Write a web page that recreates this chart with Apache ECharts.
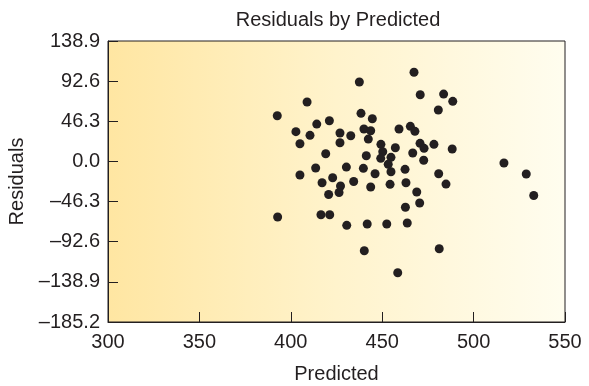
<!DOCTYPE html>
<html>
<head>
<meta charset="utf-8">
<script src="https://cdn.jsdelivr.net/npm/echarts@6/dist/echarts.min.js"></script>
<style>
html,body{margin:0;padding:0;background:#fff;}
#c{width:589px;height:386px;}
</style>
</head>
<body>
<div id="c"></div>
<script>
var predicted = [437.5,408.9,392.6,438.4,444.6,414.2,421.1,402.8,410.5,405.0,426.9,432.8,426.9,440.0,443.7,442.4,459.2,465.4,449.3,450.3,457.2,419.1,441.3,449.2,454.8,453.3,454.8,462.5,405.0,413.6,430.4,439.7,446.1,422.9,417.1,434.4,427.2,443.7,454.3,463.0,420.7,426.4,467.4,470.8,483.6,488.6,480.7,467.9,470.7,472.9,478.3,488.3,466.7,472.7,480.9,484.9,468.9,470.5,516.6,528.8,532.9,462.7,392.8,416.5,421.3,430.6,441.8,452.5,463.7,440.2,458.5,481.2];
var residuals = [91.6,68.5,52.7,55.5,49.2,43.1,46.9,34.3,30.1,20.4,32.8,29.6,21.6,37.4,35.4,25.8,37.4,40.5,19.7,11.2,15.8,8.9,6.6,3.6,4.7,-3.3,-11.9,-9.1,-15.7,-7.6,-6.5,-8.0,-14.2,-18.8,-24.6,-23.2,-28.4,-29.5,-26.4,-24.6,-38.2,-35.9,102.8,76.9,77.7,69.3,59.3,34.7,20.9,15.1,19.7,14.3,9.7,1.3,-14.2,-26.1,-35.3,-48.0,-1.8,-14.5,-39.3,-52.9,-64.1,-61.5,-61.5,-73.7,-72.2,-72.2,-71.0,-103.0,-128.4,-100.7];
var xTicks = [300,350,400,450,500,550];
var yTicks = [-185.2,-138.9,-92.6,-46.3,0.0,46.3,92.6,138.9];

var pts = predicted.map(function(x,i){return [x,residuals[i]];});
var chart = echarts.init(document.getElementById('c'));
var font = '"Liberation Sans",Arial,sans-serif';
function fmtY(v){
  if (Math.abs(v) < 1e-6) return '0.0';
  var s = Math.abs(v).toFixed(1);
  return (v < 0 ? '\u2013' : '') + s;
}
chart.setOption({
  animation:false,
  title:{text:'Residuals by Predicted',left:333,textAlign:'center',top:5,
    textStyle:{fontFamily:font,fontSize:20,fontWeight:'normal',color:'#231f20'}},
  grid:{left:108,right:24,top:41,bottom:64,containLabel:false,outerBoundsMode:'none',
    show:true,borderColor:'#231f20',borderWidth:1,
    backgroundColor:new echarts.graphic.LinearGradient(0,0,1,0,[
      {offset:0,color:'#FFE6A2'},{offset:0.5,color:'#FFF3CC'},{offset:1,color:'#FFFDEF'}])},
  xAxis:{type:'value',min:xTicks[0],max:xTicks[xTicks.length-1],interval:50,
    name:'Predicted',nameLocation:'middle',nameGap:42,
    nameTextStyle:{fontFamily:font,fontSize:20,color:'#231f20'},
    axisLine:{show:true,onZero:false,lineStyle:{color:'#231f20',width:1}},
    axisTick:{show:true,inside:true,length:10,lineStyle:{color:'#231f20'}},
    axisLabel:{fontFamily:font,fontSize:20,color:'#231f20',margin:10},
    splitLine:{show:false}},
  yAxis:{type:'value',min:yTicks[0],max:yTicks[yTicks.length-1],interval:46.3,
    name:'Residuals',nameLocation:'middle',nameGap:80,
    nameTextStyle:{fontFamily:font,fontSize:20,color:'#231f20'},
    axisLine:{show:true,onZero:false,lineStyle:{color:'#231f20',width:1}},
    axisTick:{show:true,inside:true,length:10,lineStyle:{color:'#231f20'}},
    axisLabel:{fontFamily:font,fontSize:20,color:'#231f20',margin:8,formatter:fmtY},
    splitLine:{show:false}},
  series:[{type:'scatter',data:pts,symbolSize:9,itemStyle:{color:'#231f20',opacity:1}}]
});
</script>
</body>
</html>
